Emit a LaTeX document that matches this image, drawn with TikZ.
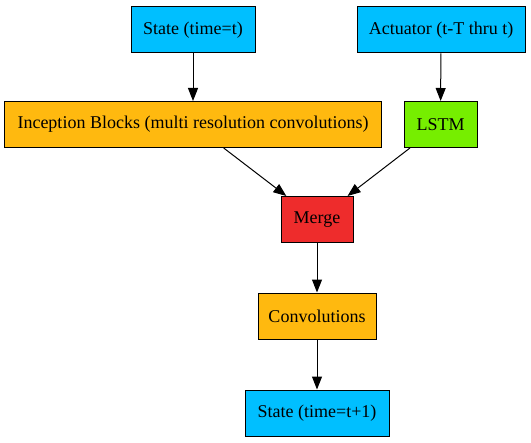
\documentclass[tikz,border=0pt]{standalone}
\usepackage{fontspec}
\setmainfont{Liberation Serif}
\usetikzlibrary{arrows.meta}

\definecolor{skyblue}{HTML}{00BFFF}
\definecolor{goldbox}{HTML}{FFB90F}
\definecolor{greenbox}{HTML}{76EE00}
\definecolor{redbox}{HTML}{EE2C2C}

\begin{document}
\begin{tikzpicture}[x=1bp, y=-1bp,
    blk/.style={draw, line width=1bp, inner sep=0pt, minimum height=46bp,
        font=\rmfamily\fontsize{18bp}{20bp}\selectfont},
    flow/.style={line width=1bp, -{Triangle[length=13bp, width=10bp]}}]
\useasboundingbox (0, 0) rectangle (531, 443);

\node[blk, fill=skyblue, minimum width=124bp] (statet) at (193, 30) {State (time=t)};
\node[blk, fill=skyblue, minimum width=168bp] (act) at (441, 30) {Actuator (t-T thru t)};
\node[blk, fill=goldbox, minimum width=376bp] (incep) at (193, 124.5)
    {Inception Blocks (multi resolution convolutions)};
\node[blk, fill=greenbox, minimum width=73bp] (lstm) at (440.5, 124.5) {LSTM};
\node[blk, fill=redbox, minimum width=72bp] (merge) at (317, 219.5) {Merge};
\node[blk, fill=goldbox, minimum width=118bp] (conv) at (317, 316) {Convolutions};
\node[blk, fill=skyblue, minimum width=144bp] (statenext) at (317, 413) {State (time=t+1)};

\draw[flow] (statet) -- (incep);
\draw[flow] (act) -- (lstm);
\draw[flow] (incep) -- (merge);
\draw[flow] (lstm) -- (merge);
\draw[flow] (merge) -- (conv);
\draw[flow] (conv) -- (statenext);
\end{tikzpicture}
\end{document}
